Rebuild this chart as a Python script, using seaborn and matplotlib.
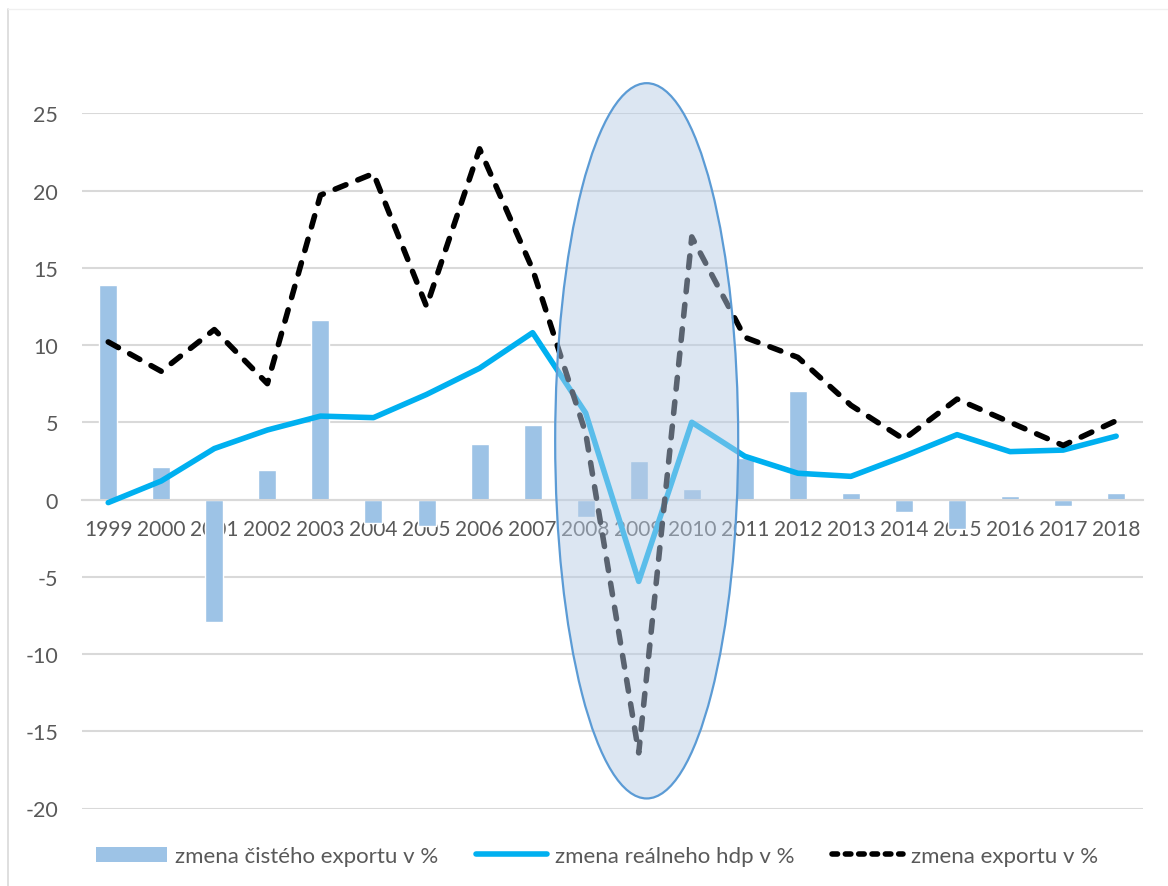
import numpy as np
import pandas as pd
import matplotlib
matplotlib.use("Agg")
import matplotlib.pyplot as plt
from matplotlib.patches import Ellipse
from matplotlib.lines import Line2D
import seaborn as sns

years = ["1999", "2000", "2001", "2002", "2003", "2004", "2005", "2006", "2007", "2008",
         "2009", "2010", "2011", "2012", "2013", "2014", "2015", "2016", "2017", "2018"]
net_export = [13.9, 2.1, -7.9, 1.9, 11.6, -1.5, -1.7, 3.6, 4.8, -1.1,
              2.5, 0.7, 2.7, 7.0, 0.4, -0.8, -1.9, 0.25, -0.4, 0.45]
real_gdp = [-0.2, 1.2, 3.3, 4.5, 5.4, 5.3, 6.8, 8.5, 10.8, 5.6,
            -5.3, 5.0, 2.8, 1.7, 1.5, 2.8, 4.2, 3.1, 3.2, 4.1]
export = [10.2, 8.3, 11.0, 7.5, 19.7, 21.1, 12.5, 22.7, 14.9, 4.3,
          -16.4, 17.0, 10.5, 9.2, 6.1, 3.9, 6.5, 5.0, 3.5, 5.1]
yticks = [-20, -15, -10, -5, 0, 5, 10, 15, 20, 25]
legend_labels = ["zmena čistého exportu v %", "zmena reálneho hdp v %", "zmena exportu v %"]

df = pd.DataFrame({"year": years, "net": net_export, "gdp": real_gdp, "exp": export})

sns.set_theme(style="white")
plt.rcParams["font.family"] = ["Lato", "DejaVu Sans"]
plt.rcParams["axes.unicode_minus"] = False

TXT = "#595959"
GRID = "#d9d9d9"
BAR = "#9dc3e6"
CYAN = "#00b0f0"
LW = 4.0

fig = plt.figure(figsize=(11.68, 8.87), dpi=100)
ax = fig.add_axes([81.7 / 1168, 1 - 809.5 / 887, (1142.7 - 81.7) / 1168, (809.5 - 114.3) / 887])

sns.barplot(data=df, x="year", y="net", color=BAR, saturation=1, width=0.34, ax=ax, zorder=2)
xpos = np.arange(len(years))
sns.lineplot(x=xpos, y=df["gdp"], color=CYAN, lw=LW, ax=ax, zorder=3, sort=False,
             estimator=None, solid_capstyle="round", solid_joinstyle="round")
sns.lineplot(x=xpos, y=df["exp"], color="black", lw=LW, ax=ax, zorder=3, sort=False,
             estimator=None, dashes=False)
ax.lines[-1].set_dashes((2.1, 2.3))
ax.lines[-1].set_dash_capstyle("round")
ax.lines[-1].set_dash_joinstyle("round")

ax.set_xlim(-0.5, len(years) - 0.5)
ax.set_ylim(-20, 25)
ax.set_yticks(yticks)
ax.yaxis.grid(True, color=GRID, lw=1.5, zorder=0)
ax.set_axisbelow(True)
for s in ["left", "right", "top"]:
    ax.spines[s].set_visible(False)
ax.spines["bottom"].set_position(("data", 0))
ax.spines["bottom"].set_color(GRID)
ax.spines["bottom"].set_linewidth(1.5)
ax.tick_params(axis="x", length=0, pad=14, labelsize=15, labelcolor=TXT)
ax.tick_params(axis="y", length=0, pad=17, labelsize=15.5, labelcolor=TXT)
ax.set_xlabel("")
ax.set_ylabel("")

ell = Ellipse((10.15, 3.8), 3.45, 46.3, facecolor=(184 / 255, 204 / 255, 229 / 255, 0.49),
              edgecolor="#5b9bd5", lw=1.6, zorder=5, clip_on=False)
ax.add_patch(ell)

# outer chart border (left & top)
fig.add_artist(Line2D([8.3 / 1168, 8.3 / 1168], [0, 1 - 10 / 887], transform=fig.transFigure,
                      color=GRID, lw=1.2))
fig.add_artist(Line2D([8.3 / 1168, 1], [1 - 10 / 887, 1 - 10 / 887], transform=fig.transFigure,
                      color="#f0f0f0", lw=1.0))

handles = [
    plt.Rectangle((0, 0), 1, 1, facecolor=BAR, edgecolor="none"),
    Line2D([], [], color=CYAN, lw=LW, solid_capstyle="round"),
    Line2D([], [], color="black", lw=LW, dashes=(1.0, 1.4), dash_capstyle="round"),
]
fig.legend(handles, legend_labels, loc="center", bbox_to_anchor=(597 / 1168, 1 - 857 / 887),
           ncol=3, frameon=False, fontsize=16, labelcolor=TXT, handlelength=3.2,
           handleheight=0.65, handletextpad=0.35, columnspacing=1.7)

fig.savefig("out.png", dpi=100)
